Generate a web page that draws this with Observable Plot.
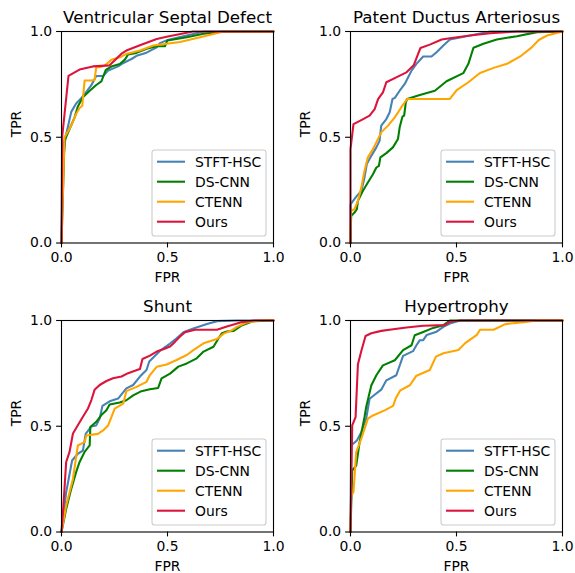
<!DOCTYPE html>
<html>
<head>
<meta charset="utf-8">
<script src="https://cdn.jsdelivr.net/npm/d3@7"></script>
<script src="https://cdn.jsdelivr.net/npm/@observablehq/plot@0.6"></script>
<style>
  html, body { margin: 0; padding: 0; background: white; }
  #chart { position: relative; width: 575px; height: 573px; background: white; }
  #chart svg { position: absolute; }
</style>
</head>
<body>
<div id="chart"></div>
<script>
// ---- categories / labels ----
const series = ["STFT-HSC", "DS-CNN", "CTENN", "Ours"];
const colors = ["steelblue", "green", "orange", "crimson"];
const titles = ["Ventricular Septal Defect", "Patent Ductus Arteriosus", "Shunt", "Hypertrophy"];
const tickValues = [0, 0.5, 1];
const xLabel = "FPR";
const yLabel = "TPR";

// ---- Ventricular Septal Defect: [FPR, TPR] ----
const vsdStft = [[0,0],[0.006,0.37],[0.019,0.5],[0.046,0.62],[0.069,0.66],[0.093,0.685],[0.117,0.715],[0.14,0.745],[0.164,0.79],[0.196,0.79],[0.22,0.815],[0.267,0.835],[0.29,0.85],[0.33,0.87],[0.354,0.885],[0.401,0.9],[0.449,0.925],[0.464,0.945],[0.496,0.958],[0.67,1],[1,1]];
const vsdDscnn = [[0,0],[0.014,0.483],[0.038,0.539],[0.062,0.594],[0.077,0.645],[0.101,0.689],[0.133,0.72],[0.164,0.747],[0.188,0.764],[0.209,0.818],[0.235,0.834],[0.275,0.846],[0.299,0.867],[0.314,0.891],[0.354,0.899],[0.401,0.918],[0.449,0.93],[0.488,0.93],[0.499,0.957],[0.591,0.973],[0.67,0.989],[0.765,1],[1,1]];
const vsdCtenn = [[0,0],[0.014,0.499],[0.046,0.555],[0.069,0.61],[0.085,0.638],[0.098,0.649],[0.109,0.768],[0.14,0.768],[0.156,0.771],[0.164,0.831],[0.18,0.831],[0.204,0.839],[0.235,0.866],[0.275,0.878],[0.306,0.894],[0.37,0.91],[0.433,0.934],[0.496,0.942],[0.559,0.95],[0.654,0.973],[0.765,1],[1,1]];
const vsdOurs = [[0,0],[0.003,0.5],[0.033,0.79],[0.085,0.82],[0.148,0.835],[0.227,0.84],[0.283,0.895],[0.306,0.91],[0.37,0.935],[0.449,0.965],[0.496,0.975],[0.62,1],[1,1]];

// ---- Patent Ductus Arteriosus ----
const pdaStft = [[0,0],[0,0.183],[0.014,0.202],[0.03,0.223],[0.051,0.246],[0.066,0.31],[0.077,0.373],[0.098,0.412],[0.122,0.452],[0.137,0.483],[0.145,0.555],[0.169,0.586],[0.185,0.618],[0.198,0.681],[0.209,0.686],[0.232,0.72],[0.256,0.752],[0.272,0.784],[0.288,0.815],[0.311,0.847],[0.343,0.882],[0.382,0.882],[0.406,0.902],[0.438,0.934],[0.469,0.962],[0.564,0.981],[0.659,1],[1,1]];
const pdaDscnn = [[0,0],[0.003,0.128],[0.019,0.144],[0.03,0.16],[0.035,0.199],[0.058,0.246],[0.082,0.286],[0.106,0.325],[0.122,0.357],[0.134,0.365],[0.141,0.405],[0.169,0.425],[0.2,0.452],[0.224,0.492],[0.232,0.547],[0.245,0.597],[0.253,0.602],[0.261,0.665],[0.267,0.681],[0.327,0.7],[0.398,0.72],[0.453,0.765],[0.532,0.803],[0.556,0.847],[0.58,0.923],[0.627,0.942],[0.69,0.962],[0.785,0.978],[0.88,0.997],[1,1]];
const pdaCtenn = [[0,0],[0.003,0.152],[0.019,0.16],[0.035,0.199],[0.051,0.262],[0.066,0.341],[0.082,0.405],[0.106,0.444],[0.145,0.523],[0.177,0.555],[0.209,0.594],[0.24,0.642],[0.267,0.681],[0.469,0.681],[0.501,0.723],[0.556,0.76],[0.611,0.804],[0.675,0.828],[0.738,0.847],[0.801,0.882],[0.856,0.926],[0.888,0.96],[0.927,0.981],[1,1]];
const pdaOurs = [[0,0],[0,0.444],[0.014,0.562],[0.051,0.581],[0.09,0.602],[0.114,0.633],[0.13,0.68],[0.153,0.712],[0.169,0.76],[0.216,0.783],[0.264,0.807],[0.28,0.823],[0.299,0.842],[0.319,0.894],[0.33,0.922],[0.374,0.938],[0.43,0.962],[0.469,0.968],[0.564,0.981],[0.659,0.992],[0.785,1],[1,1]];

// ---- Shunt ----
const shuntStft = [[0,0],[0.022,0.188],[0.05,0.338],[0.077,0.37],[0.101,0.385],[0.114,0.464],[0.141,0.499],[0.164,0.504],[0.18,0.536],[0.193,0.596],[0.227,0.618],[0.267,0.631],[0.306,0.679],[0.338,0.695],[0.37,0.735],[0.401,0.766],[0.414,0.806],[0.464,0.856],[0.512,0.891],[0.543,0.916],[0.575,0.944],[0.622,0.962],[0.686,0.983],[0.733,0.997],[0.828,1],[1,1]];
const shuntDscnn = [[0,0],[0.022,0.109],[0.046,0.204],[0.069,0.283],[0.085,0.33],[0.109,0.379],[0.133,0.41],[0.136,0.496],[0.164,0.521],[0.188,0.553],[0.212,0.576],[0.227,0.603],[0.275,0.612],[0.306,0.623],[0.338,0.646],[0.377,0.666],[0.417,0.675],[0.456,0.681],[0.472,0.726],[0.512,0.749],[0.551,0.782],[0.591,0.797],[0.638,0.821],[0.67,0.853],[0.717,0.876],[0.741,0.916],[0.757,0.94],[0.78,0.948],[0.812,0.951],[0.852,0.978],[0.907,0.997],[1,1]];
const shuntCtenn = [[0,0],[0.022,0.125],[0.054,0.251],[0.077,0.409],[0.109,0.425],[0.117,0.456],[0.172,0.464],[0.196,0.48],[0.22,0.504],[0.251,0.583],[0.291,0.607],[0.306,0.666],[0.354,0.686],[0.401,0.71],[0.417,0.742],[0.449,0.781],[0.496,0.792],[0.543,0.813],[0.591,0.837],[0.622,0.86],[0.67,0.892],[0.733,0.912],[0.765,0.938],[0.804,0.954],[0.828,0.97],[0.875,0.991],[0.938,1],[1,1]];
const shuntOurs = [[0,0],[0.009,0.125],[0.022,0.331],[0.038,0.379],[0.054,0.466],[0.077,0.505],[0.101,0.545],[0.125,0.584],[0.141,0.624],[0.156,0.672],[0.18,0.695],[0.212,0.714],[0.243,0.727],[0.283,0.735],[0.314,0.751],[0.346,0.762],[0.37,0.771],[0.382,0.818],[0.417,0.834],[0.449,0.853],[0.48,0.864],[0.512,0.877],[0.536,0.9],[0.559,0.924],[0.583,0.945],[0.63,0.956],[0.733,0.956],[0.78,0.972],[0.844,0.991],[0.907,1],[1,1]];

// ---- Hypertrophy ----
const hypStft = [[0,0],[0.003,0.409],[0.03,0.433],[0.051,0.472],[0.074,0.536],[0.09,0.63],[0.114,0.649],[0.145,0.673],[0.169,0.717],[0.216,0.741],[0.248,0.833],[0.295,0.855],[0.311,0.883],[0.327,0.907],[0.343,0.907],[0.359,0.931],[0.406,0.947],[0.438,0.97],[0.469,0.986],[0.517,1],[1,1]];
const hypDscnn = [[0,0],[0.008,0.291],[0.027,0.314],[0.043,0.425],[0.066,0.543],[0.074,0.591],[0.098,0.693],[0.122,0.741],[0.153,0.788],[0.209,0.812],[0.248,0.86],[0.288,0.883],[0.303,0.93],[0.343,0.946],[0.39,0.965],[0.438,0.978],[0.469,1],[1,1]];
const hypCtenn = [[0,0],[0.003,0.172],[0.014,0.188],[0.027,0.378],[0.051,0.441],[0.082,0.536],[0.106,0.551],[0.161,0.575],[0.201,0.596],[0.213,0.631],[0.235,0.67],[0.28,0.694],[0.311,0.739],[0.374,0.766],[0.403,0.829],[0.438,0.845],[0.509,0.861],[0.541,0.893],[0.596,0.932],[0.611,0.956],[0.675,0.956],[0.73,0.983],[0.817,0.992],[0.88,1],[1,1]];
const hypOurs = [[0,0],[0.003,0.188],[0.008,0.504],[0.024,0.543],[0.035,0.793],[0.051,0.856],[0.071,0.927],[0.098,0.94],[0.145,0.951],[0.201,0.959],[0.264,0.967],[0.343,0.975],[0.445,0.978],[0.469,0.994],[0.517,1],[1,1]];

const panelCurves = [
  [vsdStft, vsdDscnn, vsdCtenn, vsdOurs],
  [pdaStft, pdaDscnn, pdaCtenn, pdaOurs],
  [shuntStft, shuntDscnn, shuntCtenn, shuntOurs],
  [hypStft, hypDscnn, hypCtenn, hypOurs]
];

// ---- layout ----
const W = 289, H = 288;
const mL = 61, mR = 16, mT = 31, mB = 45.5;
const positions = [[0, 0], [289, 0], [0, 288.5], [289, 288.5]];
const font = "DejaVu Sans, sans-serif";
const container = document.getElementById("chart");

panelCurves.forEach((curves, p) => {
  const rows = curves.flatMap((pts, i) => pts.map(([fpr, tpr]) => ({fpr, tpr, model: series[i]})));
  const svg = Plot.plot({
    width: W, height: H,
    marginLeft: mL, marginRight: mR, marginTop: mT, marginBottom: mB,
    x: {domain: [0, 1]},
    y: {domain: [0, 1]},
    color: {domain: series, range: colors},
    style: {fontFamily: font, fontSize: "13.9px", color: "black", background: "white", overflow: "visible"},
    marks: [
      Plot.line(rows, {x: "fpr", y: "tpr", stroke: "model", z: "model", strokeWidth: 2.08}),
      Plot.frame({stroke: "black", strokeWidth: 1.1, strokeOpacity: 1}),
      Plot.axisX({ticks: tickValues, tickFormat: d3.format(".1f"), tickSize: 4.9, tickPadding: 4.4, label: null, strokeWidth: 1.1, fontSize: 13.9}),
      Plot.axisY({ticks: tickValues, tickFormat: d3.format(".1f"), tickSize: 4.9, tickPadding: 4.4, label: null, strokeWidth: 1.1, fontSize: 13.9}),
      Plot.text([titles[p]], {text: d => d, frameAnchor: "top", dy: -8.3, lineAnchor: "bottom", fontSize: 16.7, fill: "black"}),
      Plot.text([xLabel], {text: d => d, frameAnchor: "bottom", dy: 39.2, lineAnchor: "bottom", fontSize: 13.9, fill: "black"}),
      Plot.text([yLabel], {text: d => d, frameAnchor: "left", dx: -40.5, rotate: -90, lineAnchor: "bottom", fontSize: 13.9, fill: "black"})
    ]
  });
  svg.style.left = positions[p][0] + "px";
  svg.style.top = positions[p][1] + "px";

  // legend (lower right, inside frame)
  const frameRight = W - mR, frameBottom = H - mB;
  const bw = 114, bh = 86;
  const bx = frameRight - 7 - bw, by = frameBottom - 6.5 - bh;
  const g = d3.select(svg).append("g")
    .attr("font-family", font).attr("font-size", "13.9px").attr("text-anchor", "start");
  g.append("rect").attr("x", bx).attr("y", by).attr("width", bw).attr("height", bh)
    .attr("rx", 2.8).attr("fill", "white").attr("fill-opacity", 0.8)
    .attr("stroke", "#cccccc").attr("stroke-width", 1.1);
  series.forEach((s, i) => {
    const yy = by + 11.7 + i * 20;
    g.append("line").attr("x1", bx + 5).attr("x2", bx + 33).attr("y1", yy).attr("y2", yy)
      .attr("stroke", colors[i]).attr("stroke-width", 2.08);
    g.append("text").attr("x", bx + 43).attr("y", yy).attr("dy", "0.36em")
      .attr("text-anchor", "start").attr("fill", "black").text(s);
  });
  container.appendChild(svg);
});
</script>
</body>
</html>
